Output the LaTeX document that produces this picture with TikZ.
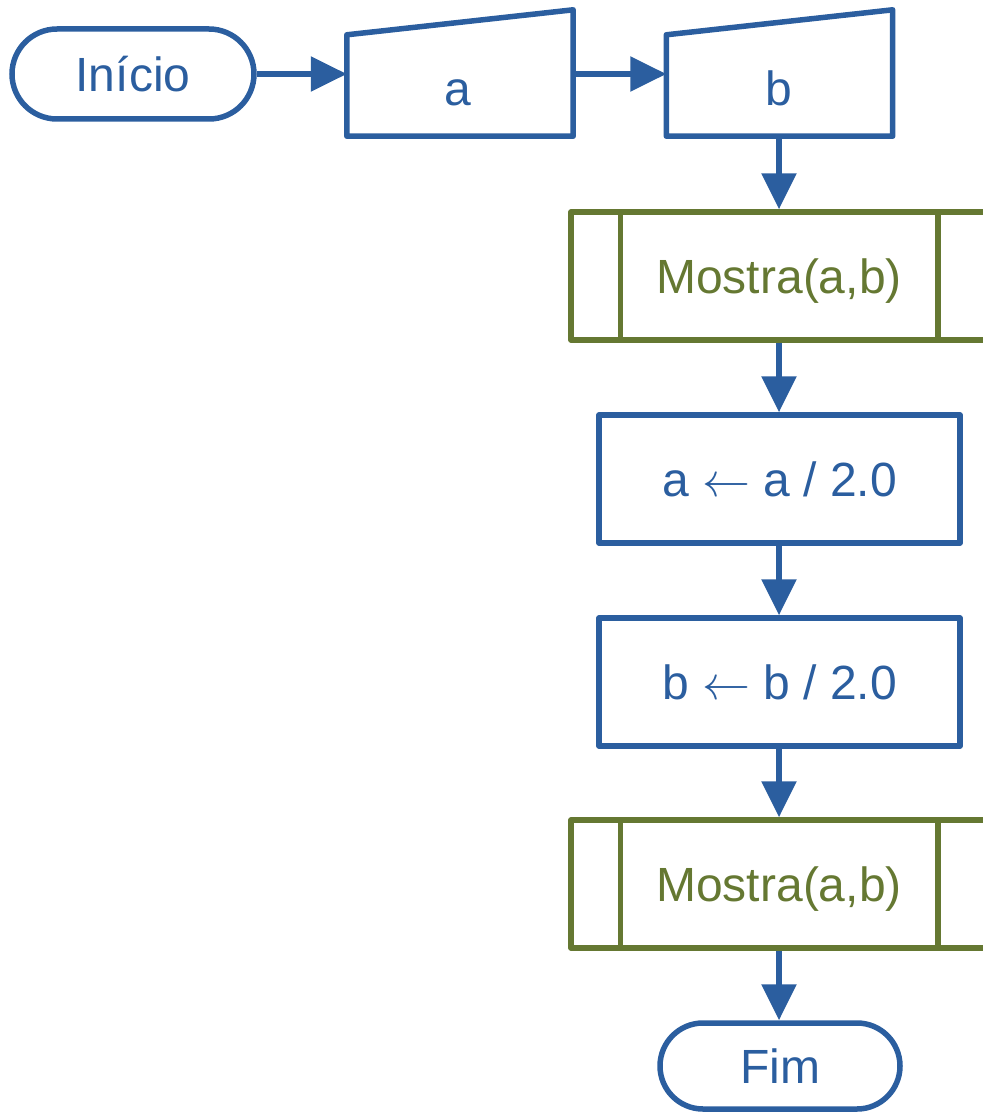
\RequirePackage{fix-cm}
\documentclass[tikz,border=0pt]{standalone}
\usepackage{fontspec}
\setmainfont{Liberation Sans}
\usetikzlibrary{arrows.meta}
\definecolor{flowblue}{HTML}{2B5E9F}
\definecolor{flowgreen}{HTML}{657832}
\tikzset{
  x=1pt, y=-1pt,
  every node/.style={font=\fontsize{48}{58}\selectfont, inner sep=0pt, text height=34.5pt, text depth=0pt},
  terminal/.style={draw=flowblue, line width=5.5pt, text=flowblue, rounded corners=#1, minimum height=2*#1},
  procbox/.style={draw=flowblue, line width=5.5pt, text=flowblue, minimum width=361pt, minimum height=128pt, line join=round},
  subbox/.style={draw=flowgreen, line width=5.5pt, text=flowgreen, minimum width=416pt, minimum height=128pt, line join=round},
  inputframe/.style={minimum width=226pt, minimum height=126pt},
  inputedge/.style={draw=flowblue, line width=5.5pt, line join=round},
  flow/.style={draw=flowblue, line width=5.5pt, -{Triangle[length=36pt,width=34pt]}},
}
\begin{document}
\begin{tikzpicture}
\useasboundingbox (0,0) rectangle (982,1113);

% start terminal
\node[terminal=45pt, minimum width=242pt] (start) at (133,74) {Início};

% manual input a
\node[inputframe] (ina) at (460,73) {};
\draw[inputedge] (ina.south west) -- (ina.south east) -- (ina.north east)
  -- ([yshift=-25pt]ina.north west) -- cycle;
\node[text=flowblue] (ta) at (458,88) {a};

% manual input b
\node[inputframe] (inb) at (779.5,73) {};
\draw[inputedge] (inb.south west) -- (inb.south east) -- (inb.north east)
  -- ([yshift=-25pt]inb.north west) -- cycle;
\node[text=flowblue] (tb) at (779,88) {b};

% first subroutine call
\node[subbox] (show1) at (779,276) {Mostra(a,b)};
\draw[flowgreen, line width=5.5pt]
  ([xshift=52pt]show1.north west) -- ([xshift=52pt]show1.south west)
  ([xshift=-52pt]show1.north east) -- ([xshift=-52pt]show1.south east);

% assignments
\node[procbox] (halfa) at (779.5,479) {a $\leftarrow$ a / 2.0};
\node[procbox] (halfb) at (779.5,682) {b $\leftarrow$ b / 2.0};

% second subroutine call
\node[subbox] (show2) at (779,884) {Mostra(a,b)};
\draw[flowgreen, line width=5.5pt]
  ([xshift=52pt]show2.north west) -- ([xshift=52pt]show2.south west)
  ([xshift=-52pt]show2.north east) -- ([xshift=-52pt]show2.south east);

% end terminal
\node[terminal=43pt, minimum width=240pt] (stop) at (780,1066) {Fim};

% connectors
\draw[flow] (start) -- (ina.west |- start);
\draw[flow] (ina.east |- start) -- (inb.west |- start);
\draw[flow] (inb.south -| show1) -- (show1.north);
\draw[flow] (show1.south) -- (show1.south |- halfa.north);
\draw[flow] (halfa.south -| show1) -- (show1.south |- halfb.north);
\draw[flow] (halfb.south -| show1) -- (show2.north);
\draw[flow] (show2.south) -- (show2.south |- stop.north);
\end{tikzpicture}
\end{document}
